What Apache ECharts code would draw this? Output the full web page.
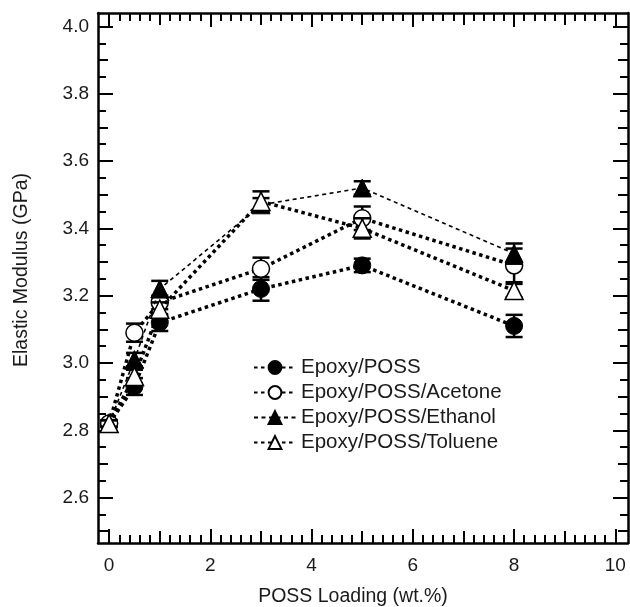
<!DOCTYPE html>
<html><head><meta charset="utf-8">
<script src="https://cdn.jsdelivr.net/npm/echarts@6/dist/echarts.min.js"></script>
<style>html,body{margin:0;padding:0;background:#fff}#c{width:630px;height:607px}</style>
</head><body><div id="c"></div>
<script>
// ---- data ----
const loading = [0, 0.5, 1, 3, 5, 8];
const seriesNames = ['Epoxy/POSS', 'Epoxy/POSS/Acetone', 'Epoxy/POSS/Ethanol', 'Epoxy/POSS/Toluene'];
const epoxy      = [2.82, 2.93, 3.12, 3.22, 3.29, 3.11];
const epoxyErr   = [0.01, 0.025, 0.025, 0.035, 0.02, 0.033];
const acetone    = [2.82, 3.09, 3.18, 3.28, 3.43, 3.29];
const acetoneErr = [0.01, 0.027, 0.02, 0.033, 0.035, 0.05];
const ethanol    = [2.82, 3.01, 3.22, 3.47, 3.52, 3.325];
const ethanolErr = [0.01, 0.02, 0.024, 0.02, 0.02, 0.03];
const toluene    = [2.82, 2.96, 3.16, 3.48, 3.40, 3.215];
const tolueneErr = [0.01, 0.02, 0.02, 0.03, 0.03, 0.02];
const xTickLabels = [0, 2, 4, 6, 8, 10];
const yTickLabels = [2.6, 2.8, 3.0, 3.2, 3.4, 3.6, 3.8, 4.0];

// ---- axis extents & tick sets ----
const X_MIN = -0.22, X_MAX = 10.25, Y_MIN = 2.465, Y_MAX = 4.04;
const xOdd = [1, 3, 5, 7, 9];
const xMinor = []; for (let k = 0; k <= 50; k++) { if (k % 5) xMinor.push(k * 0.2); }
const yMid = [2.5, 2.7, 2.9, 3.1, 3.3, 3.5, 3.7, 3.9];
const yMinor = []; for (let k = 50; k <= 80; k++) { if (k % 2) yMinor.push(k * 0.05); }

const FONT = '"Liberation Sans", Arial, Helvetica, sans-serif';
const TXT = '#1a1a1a';
const gridBox = {left: 98, right: 2, top: 13, bottom: 64, outerBoundsMode: 'none', containLabel: false};

const grids = [], xAxes = [], yAxes = [];
function addGrid(xPos, xTicks, xLen, yPos, yTicks, yLen, main) {
  const gi = grids.length;
  grids.push(Object.assign({}, gridBox));
  const line = {show: main, onZero: false, lineStyle: {color: '#000', width: 2.5}};
  const xa = {
    type: 'value', gridIndex: gi, position: xPos, min: X_MIN, max: X_MAX,
    axisLine: line, splitLine: {show: false},
    axisTick: {show: true, inside: true, length: xLen, customValues: xTicks, lineStyle: {color: '#000', width: 2}},
    axisLabel: {show: false}
  };
  const ya = {
    type: 'value', gridIndex: gi, position: yPos, min: Y_MIN, max: Y_MAX,
    axisLine: line, splitLine: {show: false},
    axisTick: {show: true, inside: true, length: yLen, customValues: yTicks, lineStyle: {color: '#000', width: 2}},
    axisLabel: {show: false}
  };
  xAxes.push(xa); yAxes.push(ya);
  return [xa, ya];
}
const [mx, my] = addGrid('bottom', xTickLabels, 14, 'left', yTickLabels, 15, true);
mx.axisLabel = {show: true, customValues: xTickLabels, margin: 13, fontSize: 19, color: TXT, fontFamily: FONT};
mx.name = 'POSS Loading (wt.%)';
mx.nameLocation = 'middle'; mx.nameGap = 44;
mx.nameTextStyle = {fontSize: 19.5, color: TXT, fontFamily: FONT, padding: [0, 20, 0, 0]};
my.axisLabel = {show: true, customValues: yTickLabels, margin: 9, fontSize: 19, color: TXT, fontFamily: FONT,
  formatter: v => Number(v).toFixed(1)};
my.name = 'Elastic Modulus (GPa)';
my.nameLocation = 'middle'; my.nameGap = 66;
my.nameTextStyle = {fontSize: 19.5, color: TXT, fontFamily: FONT, padding: [0, 0, 0, 16]};
addGrid('bottom', xOdd, 12, 'left', yMid, 10, false);
addGrid('bottom', xMinor, 8, 'left', yMinor, 8, false);
addGrid('top', xTickLabels, 14, 'right', yTickLabels, 15, true);
addGrid('top', xOdd, 12, 'right', yMid, 10, false);
addGrid('top', xMinor, 8, 'right', yMinor, 8, false);

function errRender(params, api) {
  const x = api.value(0), y = api.value(1), e = api.value(2);
  const t = api.coord([x, y + e]), b = api.coord([x, y - e]);
  const hw = 8.5, st = {stroke: '#000', lineWidth: 2.5};
  return {type: 'group', children: [
    {type: 'line', shape: {x1: t[0], y1: t[1], x2: b[0], y2: b[1]}, style: st},
    {type: 'line', shape: {x1: t[0] - hw, y1: t[1], x2: t[0] + hw, y2: t[1]}, style: st},
    {type: 'line', shape: {x1: b[0] - hw, y1: b[1], x2: b[0] + hw, y2: b[1]}, style: st}
  ]};
}

const vals = [epoxy, acetone, ethanol, toluene];
const errs = [epoxyErr, acetoneErr, ethanolErr, tolueneErr];
const symbols = ['circle', 'circle', 'triangle', 'triangle'];
const filled = [true, false, true, false];
const lineStyles = [
  {color: '#000', width: 3.5, type: [3.5, 3.5], cap: 'butt'},
  {color: '#000', width: 3.5, type: [3.5, 3.5], cap: 'butt'},
  {color: '#000', width: 1.6, type: [4, 3.5], cap: 'butt'},
  {color: '#000', width: 3.5, type: [3.5, 3.5], cap: 'butt'}
];

const series = [];
vals.forEach((v, i) => {
  series.push({
    name: 'err' + i, type: 'custom', xAxisIndex: 0, yAxisIndex: 0, z: 2 + i * 2,
    renderItem: errRender, encode: {x: 0, y: 1},
    data: loading.map((x, j) => [x, v[j], errs[i][j]]), silent: true
  });
  series.push({
    name: seriesNames[i], type: 'line', xAxisIndex: 0, yAxisIndex: 0, z: 3 + i * 2,
    data: loading.map((x, j) => [x, v[j]]),
    symbol: symbols[i], symbolSize: symbols[i] === 'circle' ? 17 : 18,
    itemStyle: filled[i] ? {color: '#000', borderColor: '#000', borderWidth: 1}
                         : {color: '#fff', borderColor: '#000', borderWidth: 1.5},
    lineStyle: lineStyles[i]
  });
});

const chart = echarts.init(document.getElementById('c'), null, {renderer: 'canvas'});
chart.setOption({
  animation: false,
  backgroundColor: '#fff',
  grid: grids,
  xAxis: xAxes,
  yAxis: yAxes,
  legend: {
    data: seriesNames, orient: 'vertical', left: 253, top: 357,
    itemWidth: 42, itemHeight: 16, itemGap: 4, padding: 0,
    textStyle: {fontSize: 20.5, lineHeight: 20, color: TXT, fontFamily: FONT}
  },
  series: series
});
</script>
</body></html>
